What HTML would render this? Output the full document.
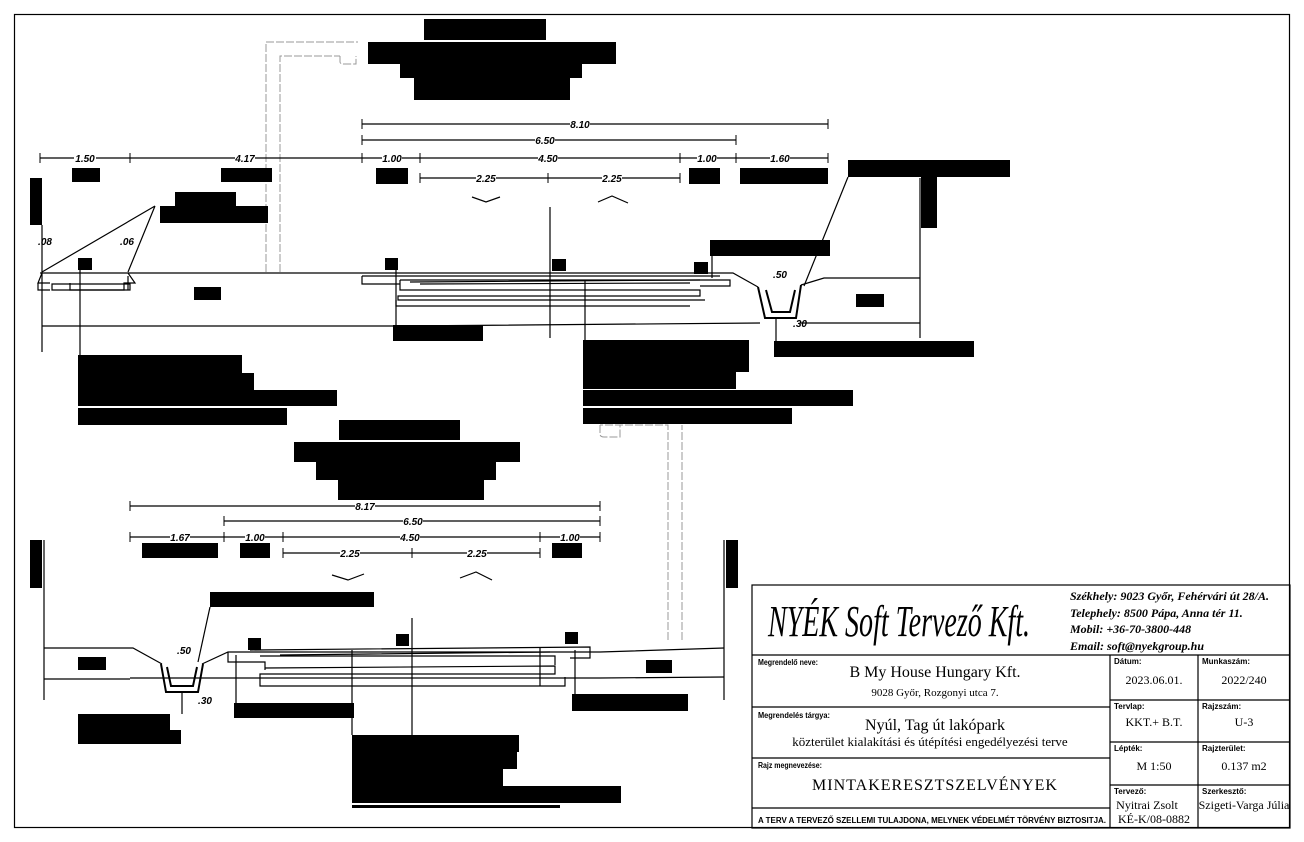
<!DOCTYPE html>
<html><head><meta charset="utf-8"><style>
html,body{margin:0;padding:0;background:#fff}
svg{display:block}
.d{font-family:"Liberation Sans",sans-serif;font-style:italic;font-size:10px;font-weight:bold}
.s{font-family:"Liberation Sans",sans-serif;font-weight:bold;font-size:8px}
.v{font-family:"Liberation Serif",serif;font-size:12px}
</style></head><body>
<svg width="1304" height="842" viewBox="0 0 1304 842" xmlns="http://www.w3.org/2000/svg">
<rect x="14.5" y="14.5" width="1275" height="813" fill="none" stroke="#000" stroke-width="1.2"/>

<g stroke="#999" stroke-width="1" fill="none" stroke-dasharray="8,2">
<path d="M266 272 V42 H358 M280 272 V56 H340 M340 56 V62 Q340 64 344 64 H356 V56"/>
<path d="M668 640 V425 H600 M682 640 V425 M600 425 V434 Q600 437 604 437 H620 V425"/>
</g>

<g fill="#000">
<rect x="424" y="19" width="122" height="21"/>
<rect x="368" y="42" width="248" height="22"/>
<rect x="400" y="64" width="182" height="14"/>
<rect x="414" y="78" width="156" height="22"/>
<rect x="339" y="420" width="121" height="20"/>
<rect x="294" y="442" width="226" height="20"/>
<rect x="316" y="462" width="180" height="18"/>
<rect x="338" y="480" width="146" height="20"/>
</g>

<g stroke="#000" stroke-width="1.2">
<line x1="362" y1="124" x2="828" y2="124"/>
<line x1="362" y1="140" x2="736" y2="140"/>
<line x1="40" y1="158" x2="828" y2="158"/>
<line x1="420" y1="178" x2="680" y2="178"/>
<g stroke-width="1">
<path d="M362 119v10M828 119v10M362 135v10M736 135v10M40 153v10M130 153v10M362 153v10M420 153v10M680 153v10M736 153v10M828 153v10M420 173v10M548 173v10M680 173v10"/>
<path d="M130 501v10M600 501v10M224 516v10M600 516v10M130 532v10M224 532v10M283 532v10M540 532v10M600 532v10M283 548v10M412 548v10M540 548v10"/>
</g>
<line x1="130" y1="506" x2="600" y2="506"/>
<line x1="224" y1="521" x2="600" y2="521"/>
<line x1="130" y1="537" x2="600" y2="537"/>
<line x1="283" y1="553" x2="540" y2="553"/>
</g>
<g class="d" text-anchor="middle">
<rect x="570" y="119" width="20" height="10" fill="#fff"/><text x="580" y="128">8.10</text>
<rect x="535" y="135" width="20" height="10" fill="#fff"/><text x="545" y="144">6.50</text>
<rect x="74" y="153" width="22" height="10" fill="#fff"/><text x="85" y="162">1.50</text>
<rect x="235" y="153" width="20" height="10" fill="#fff"/><text x="245" y="162">4.17</text>
<rect x="382" y="153" width="20" height="10" fill="#fff"/><text x="392" y="162">1.00</text>
<rect x="538" y="153" width="20" height="10" fill="#fff"/><text x="548" y="162">4.50</text>
<rect x="697" y="153" width="20" height="10" fill="#fff"/><text x="707" y="162">1.00</text>
<rect x="770" y="153" width="20" height="10" fill="#fff"/><text x="780" y="162">1.60</text>
<rect x="476" y="173" width="20" height="10" fill="#fff"/><text x="486" y="182">2.25</text>
<rect x="602" y="173" width="20" height="10" fill="#fff"/><text x="612" y="182">2.25</text>
<rect x="355" y="501" width="20" height="10" fill="#fff"/><text x="365" y="510">8.17</text>
<rect x="403" y="516" width="20" height="10" fill="#fff"/><text x="413" y="525">6.50</text>
<rect x="170" y="532" width="20" height="10" fill="#fff"/><text x="180" y="541">1.67</text>
<rect x="245" y="532" width="20" height="10" fill="#fff"/><text x="255" y="541">1.00</text>
<rect x="400" y="532" width="20" height="10" fill="#fff"/><text x="410" y="541">4.50</text>
<rect x="560" y="532" width="20" height="10" fill="#fff"/><text x="570" y="541">1.00</text>
<rect x="340" y="548" width="20" height="10" fill="#fff"/><text x="350" y="557">2.25</text>
<rect x="467" y="548" width="20" height="10" fill="#fff"/><text x="477" y="557">2.25</text>
<text x="45" y="245">.08</text><text x="127" y="245">.06</text>
<text x="780" y="278">.50</text><text x="800" y="327">.30</text>
<text x="184" y="654">.50</text><text x="205" y="704">.30</text>
</g>

<g fill="#000">
<rect x="72" y="168" width="28" height="14"/><rect x="221" y="168" width="51" height="14"/>
<rect x="376" y="168" width="32" height="16"/><rect x="689" y="168" width="31" height="16"/>
<rect x="740" y="168" width="88" height="16"/>
<rect x="30" y="178" width="12" height="47"/>
<rect x="175" y="192" width="61" height="14"/><rect x="160" y="206" width="108" height="17"/>
<rect x="78" y="258" width="14" height="12"/><rect x="385" y="258" width="13" height="12"/>
<rect x="552" y="259" width="14" height="12"/><rect x="694" y="262" width="14" height="12"/>
<rect x="194" y="287" width="27" height="13"/><rect x="856" y="294" width="28" height="13"/>
<rect x="848" y="160" width="162" height="17"/><rect x="921" y="177" width="16" height="51"/>
<rect x="710" y="240" width="120" height="16"/><rect x="774" y="341" width="200" height="16"/>
<rect x="393" y="325" width="90" height="16"/>
<rect x="78" y="355" width="164" height="18"/><rect x="78" y="373" width="176" height="17"/>
<rect x="78" y="390" width="259" height="16"/><rect x="78" y="408" width="209" height="17"/>
<rect x="583" y="340" width="166" height="32"/><rect x="583" y="372" width="153" height="17"/>
<rect x="583" y="390" width="270" height="16"/><rect x="583" y="408" width="209" height="16"/>
</g>

<g stroke="#000" stroke-width="1.2" fill="none">
<line x1="42" y1="225" x2="42" y2="352"/>
<path d="M155 206 L42 272 M155 206 L128 272"/>
<path d="M40 273 H733 L758 287 M801 285 L824 278 H920"/>
<path d="M42 326 H400 L760 323 M800 323 H920"/>
<line x1="920" y1="178" x2="920" y2="338"/>
<line x1="550" y1="207" x2="550" y2="338"/>
<line x1="80" y1="270" x2="80" y2="355"/>
<line x1="396" y1="270" x2="396" y2="325"/>
<line x1="585" y1="280" x2="585" y2="340"/>
<line x1="712" y1="256" x2="712" y2="278"/>
<line x1="848" y1="177" x2="804" y2="286"/>
<line x1="776" y1="318" x2="776" y2="341"/>
<path d="M42 273 L38 283 H50 M128 273 L135 283 H124 V290 H70 V283 M38 283 V290 H50 M128 276 V290"/>
<path d="M52 284 H130 V290 H52 Z"/>
<path d="M362 276 H720 M362 276 V284 H400 M400 280 H730 V286 H700 M400 280 V290 H700 V296 H398 V300 H705 M396 300 V306 H690"/>
<path d="M410 282 L700 280 M420 284 L690 283"/>
<path d="M758 287 L765 318 H796 L801 285 M766 290 L772 312 H790 L795 290" stroke-width="2"/>
<path d="M472 197 L486 202 L500 197 M598 202 L612 196 L628 203"/>
</g>

<g fill="#000">
<rect x="142" y="543" width="76" height="15"/><rect x="240" y="543" width="30" height="15"/>
<rect x="552" y="543" width="30" height="15"/>
<rect x="30" y="540" width="12" height="48"/><rect x="726" y="540" width="12" height="48"/>
<rect x="210" y="592" width="164" height="15"/>
<rect x="248" y="638" width="13" height="12"/><rect x="396" y="634" width="13" height="12"/>
<rect x="565" y="632" width="13" height="12"/>
<rect x="78" y="657" width="28" height="13"/><rect x="646" y="660" width="26" height="13"/>
<rect x="78" y="714" width="92" height="16"/><rect x="78" y="730" width="103" height="14"/>
<rect x="234" y="703" width="120" height="15"/><rect x="572" y="694" width="116" height="17"/>
<rect x="352" y="735" width="167" height="17"/><rect x="352" y="752" width="165" height="17"/>
<rect x="352" y="769" width="151" height="17"/><rect x="352" y="786" width="269" height="17"/>
<rect x="352" y="805" width="208" height="3"/>
</g>
<g stroke="#000" stroke-width="1.2" fill="none">
<line x1="44" y1="540" x2="44" y2="700"/><line x1="724" y1="540" x2="724" y2="700"/>
<path d="M44 648 H133 L162 664 M202 664 L228 652 H600 L724 648"/>
<path d="M44 679 H130 M130 678 H600 L724 677"/>
<path d="M161 664 L166 692 H198 L203 664 M167 667 L171 686 H193 L197 667" stroke-width="2"/>
<path d="M210 607 L198 662"/>
<line x1="182" y1="692" x2="182" y2="714"/>
<line x1="412" y1="618" x2="412" y2="797"/>
<line x1="352" y1="650" x2="352" y2="735"/>
<line x1="236" y1="655" x2="236" y2="703"/>
<line x1="540" y1="648" x2="540" y2="686"/>
<line x1="575" y1="650" x2="575" y2="694"/>
<path d="M228 652 V662 H265 V670 M260 656 H555 V665 M265 668 L555 666 V674 H260 V686 H565 V677"/>
<path d="M250 650 L590 647 V658 H570 M280 655 L550 652"/>
<path d="M332 575 L348 580 L364 574 M460 578 L476 572 L492 580"/>
</g>

<g stroke="#000" stroke-width="1.2" fill="none">
<rect x="752" y="585" width="538" height="243"/>
<line x1="752" y1="655" x2="1290" y2="655"/>
<line x1="752" y1="707" x2="1110" y2="707"/>
<line x1="752" y1="758" x2="1110" y2="758"/>
<line x1="752" y1="808" x2="1110" y2="808"/>
<line x1="1110" y1="655" x2="1110" y2="828"/>
<line x1="1198" y1="655" x2="1198" y2="828"/>
<line x1="1110" y1="700" x2="1290" y2="700"/>
<line x1="1110" y1="742" x2="1290" y2="742"/>
<line x1="1110" y1="785" x2="1290" y2="785"/>
</g>
<text x="768" y="636" font-family="Liberation Serif,serif" font-style="italic" font-size="44" textLength="262" lengthAdjust="spacingAndGlyphs">NYÉK Soft Tervező Kft.</text>
<g font-family="Liberation Serif,serif" font-style="italic" font-weight="bold" font-size="12">
<text x="1070" y="600">Székhely:  9023 Győr, Fehérvári út 28/A.</text>
<text x="1070" y="617">Telephely: 8500 Pápa, Anna tér 11.</text>
<text x="1070" y="633">Mobil: +36-70-3800-448</text>
<text x="1070" y="650">Email: soft@nyekgroup.hu</text>
</g>
<g class="s">
<text x="758" y="665" textLength="60" lengthAdjust="spacingAndGlyphs">Megrendelő neve:</text>
<text x="758" y="718" textLength="72" lengthAdjust="spacingAndGlyphs">Megrendelés tárgya:</text>
<text x="758" y="768" textLength="64" lengthAdjust="spacingAndGlyphs">Rajz megnevezése:</text>
<text x="1114" y="664">Dátum:</text><text x="1202" y="664">Munkaszám:</text>
<text x="1114" y="709">Tervlap:</text><text x="1202" y="709">Rajzszám:</text>
<text x="1114" y="751">Lépték:</text><text x="1202" y="751">Rajzterület:</text>
<text x="1114" y="794">Tervező:</text><text x="1202" y="794">Szerkesztő:</text>
<text x="758" y="823" textLength="348" lengthAdjust="spacingAndGlyphs">A  TERV A TERVEZŐ SZELLEMI  TULAJDONA,  MELYNEK VÉDELMÉT TÖRVÉNY  BIZTOSITJA.</text>
</g>
<g class="v" text-anchor="middle">
<text x="935" y="677" font-size="16">B My House Hungary Kft.</text>
<text x="935" y="696" font-size="11">9028 Győr, Rozgonyi utca 7.</text>
<text x="935" y="730" font-size="16">Nyúl, Tag út lakópark</text>
<text x="930" y="746" font-size="13">közterület kialakítási és útépítési engedélyezési terve</text>
<text x="935" y="790" font-size="16" letter-spacing="1">MINTAKERESZTSZELVÉNYEK</text>
<text x="1154" y="684">2023.06.01.</text><text x="1244" y="684">2022/240</text>
<text x="1154" y="726">KKT.+ B.T.</text><text x="1244" y="726">U-3</text>
<text x="1154" y="770">M 1:50</text><text x="1244" y="770">0.137 m2</text>
<text x="1147" y="809">Nyitrai Zsolt</text><text x="1244" y="809">Szigeti-Varga Júlia</text>
<text x="1154" y="823">KÉ-K/08-0882</text>
</g>
</svg>
</body></html>
